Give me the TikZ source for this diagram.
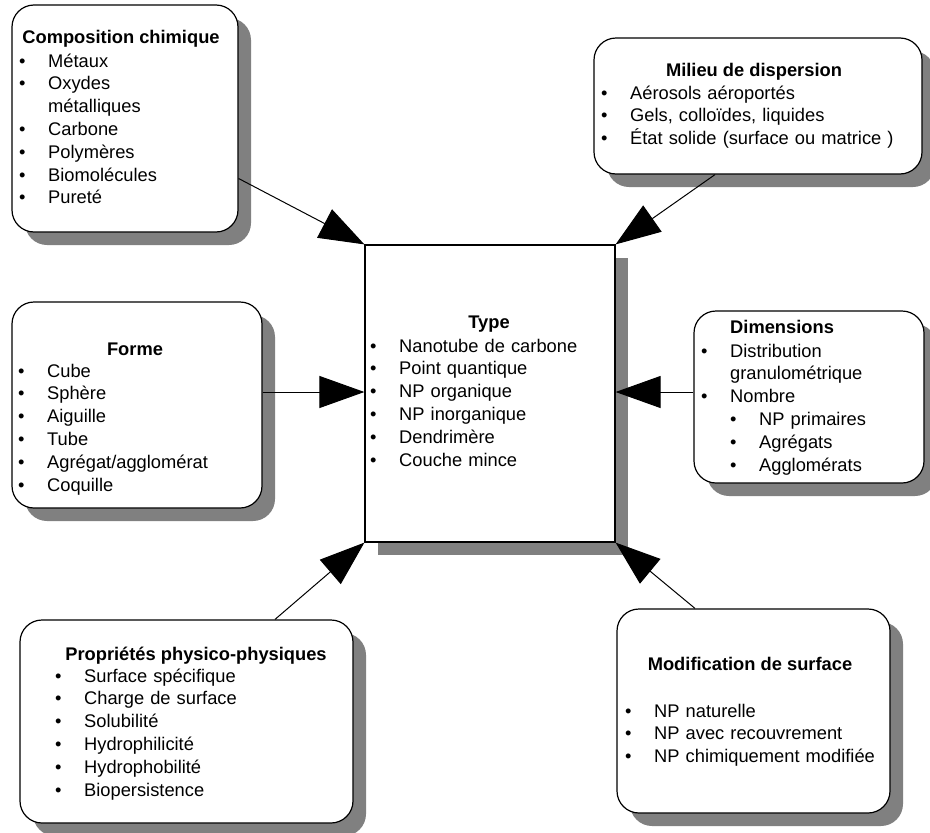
\documentclass[tikz,border=0pt]{standalone}
\usepackage{fontspec}
\setmainfont{Liberation Sans}
\usetikzlibrary{arrows.meta,shadows,calc}
\definecolor{shadowgray}{RGB}{128,128,128}
\newcommand{\bl}{\makebox[29pt][l]{•}}
\newcommand{\ind}{\hspace*{29pt}}
\begin{document}
\begin{tikzpicture}[x=1pt,y=-1pt,
  txt/.style={font=\fontsize{18.3pt}{22.8pt}\selectfont, inner sep=0pt},
  ttl/.style={inner sep=0pt, font=\fontsize{18.3pt}{22.8pt}\selectfont\bfseries, anchor=base},
  lst/.style={txt, anchor=base west, align=left, text width=320pt},
  rbox/.style={draw, line width=1.2pt, fill=white, rounded corners=22pt, inner sep=0pt,
    drop shadow={shadow xshift=13pt, shadow yshift=-13pt, fill=shadowgray, opacity=1}},
  sbox/.style={rbox, sharp corners},
  conn/.style={line width=1pt, -{Triangle[length=45pt,width=32pt]}}]
\useasboundingbox (0,0) rectangle (930,833);

% boxes
\node[rbox, minimum width=226pt, minimum height=227pt] (comp) at (125,118.5) {};
\node[rbox, minimum width=328pt, minimum height=136pt] (milieu) at (758,106) {};
\node[rbox, minimum width=250pt, minimum height=206pt] (forme) at (137,405) {};
\node[sbox, minimum width=250pt, minimum height=297pt] (type) at (490,393.5) {};
\node[rbox, minimum width=230pt, minimum height=172pt] (dim) at (809,397) {};
\node[rbox, minimum width=333pt, minimum height=203pt] (prop) at (186.5,721.5) {};
\node[rbox, minimum width=273pt, minimum height=204pt] (modif) at (753.5,711) {};

% texts
\node[ttl] (compT) at (121,43) {Composition chimique};
\node[lst] (compL) at (19,67) {\bl Métaux\\ \bl Oxydes\\ \ind métalliques\\ \bl Carbone\\ \bl Polymères\\ \bl Biomolécules\\ \bl Pureté};

\node[ttl] (milT) at (754,76) {Milieu de dispersion};
\node[lst] (milL) at (601,99) {\bl Aérosols aéroportés\\ \bl Gels, colloïdes, liquides\\ \bl État solide (surface ou matrice )};

\node[ttl] (forT) at (135,355) {Forme};
\node[lst] (forL) at (18,377) {\bl Cube\\ \bl Sphère\\ \bl Aiguille\\ \bl Tube\\ \bl Agrégat/agglomérat\\ \bl Coquille};

\node[ttl] (typT) at (489,328) {Type};
\node[lst] (typL) at (370,352) {\bl Nanotube de carbone\\ \bl Point quantique\\ \bl NP organique\\ \bl NP inorganique\\ \bl Dendrimère\\ \bl Couche mince};

\node[ttl, anchor=base west] (dimT) at (730,333) {Dimensions};
\node[lst] (dimL) at (701,357) {\bl Distribution\\ \ind granulométrique\\ \bl Nombre\\ \ind\bl NP primaires\\ \ind\bl Agrégats\\ \ind\bl Agglomérats};

\node[ttl] (proT) at (196,660) {Propriétés physico-physiques};
\node[lst] (proL) at (55,682) {\bl Surface spécifique\\ \bl Charge de surface\\ \bl Solubilité\\ \bl Hydrophilicité\\ \bl Hydrophobilité\\ \bl Biopersistence};

\node[ttl] (modT) at (750,670) {Modification de surface};
\node[lst] (modL) at (625,717) {\bl NP naturelle\\ \bl NP avec recouvrement\\ \bl NP chimiquement modifiée};

% connectors
\coordinate (c1) at ($(comp.east)+(0,60)$);
\draw[conn] (c1) -- (type.north west);
\coordinate (c2) at ($(milieu.south)+(-43,0)$);
\draw[conn] (c2) -- (type.north east);
\coordinate (c3) at ($(forme.east)+(0,-13)$);
\draw[conn] (c3) -- (c3 -| type.west);
\coordinate (c4) at ($(dim.west)+(0,-5)$);
\draw[conn] (c4) -- (c4 -| type.east);
\coordinate (c5) at ($(prop.north)+(88.5,0)$);
\draw[conn] (c5) -- (type.south west);
\coordinate (c6) at ($(modif.north)+(-58.5,0)$);
\draw[conn] (c6) -- (type.south east);
\end{tikzpicture}
\end{document}
